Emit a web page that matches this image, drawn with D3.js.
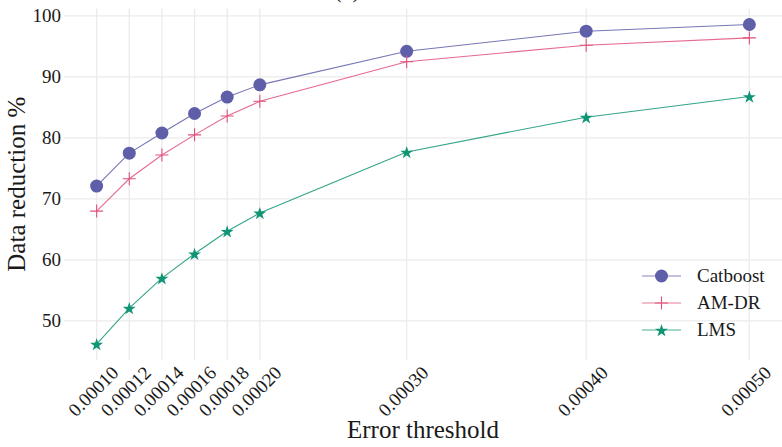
<!DOCTYPE html>
<html>
<head>
<meta charset="utf-8">
<script src="https://cdn.jsdelivr.net/npm/d3@7"></script>
<style>
  body { margin: 0; background: #fff; }
  text { font-family: "Liberation Serif", "DejaVu Serif", serif; fill: #1a1a1a; }
</style>
</head>
<body>
<svg id="chart" width="782" height="447"></svg>
<script>
// data
const thresholds = [0.00010, 0.00012, 0.00014, 0.00016, 0.00018, 0.00020, 0.00029, 0.00040, 0.00050];
const tickLabels = ['0.00010', '0.00012', '0.00014', '0.00016', '0.00018', '0.00020', '0.00030', '0.00040', '0.00050'];
const catboost = [72.1, 77.5, 80.8, 84.0, 86.7, 88.7, 94.2, 97.5, 98.6];
const amdr = [68.0, 73.3, 77.2, 80.5, 83.6, 86.0, 92.5, 95.2, 96.4];
const lms = [46.2, 52.1, 57.0, 61.0, 64.7, 67.7, 77.7, 83.4, 86.8];
const yTicks = [50, 60, 70, 80, 90, 100];
const seriesNames = ['Catboost', 'AM-DR', 'LMS'];
const seriesColors = ['#5f5ea8', '#e0507a', '#0f9474'];

const svg = d3.select('#chart');
const panelLeft = 64, panelRight = 782, panelTop = 8.5, panelBottom = 360;

function expand(ext, k) {
	const pad = (ext[1] - ext[0]) * k;
	return [ext[0] - pad, ext[1] + pad];
}

const allY = catboost.concat(amdr, lms);
const x = d3.scaleLinear().domain(expand(d3.extent(thresholds), 0.05)).range([panelLeft, panelRight]);
const y = d3.scaleLinear().domain(expand(d3.extent(allY), 0.05)).range([panelBottom, panelTop]);

// grid
svg.append('g')
	.selectAll('line')
	.data(yTicks)
	.enter()
	.append('line')
	.attr('x1', panelLeft).attr('x2', panelRight)
	.attr('y1', d => y(d)).attr('y2', d => y(d))
	.attr('stroke', '#ebebeb').attr('stroke-width', 1.3);

svg.append('g')
	.selectAll('line')
	.data(thresholds)
	.enter()
	.append('line')
	.attr('x1', d => x(d)).attr('x2', d => x(d))
	.attr('y1', panelTop).attr('y2', panelBottom)
	.attr('stroke', '#ebebeb').attr('stroke-width', 1.3);

// y tick labels
svg.append('g')
	.selectAll('text')
	.data(yTicks)
	.enter()
	.append('text')
	.attr('x', panelLeft - 3)
	.attr('y', d => y(d))
	.attr('dy', '0.33em')
	.attr('text-anchor', 'end')
	.style('font-size', '19px')
	.text(d => d);

// x tick labels, rotated
svg.append('g')
	.selectAll('text')
	.data(thresholds)
	.enter()
	.append('text')
	.attr('transform', d => `translate(${x(d) + 23},374) rotate(-45)`)
	.attr('text-anchor', 'end')
	.style('font-size', '19px')
	.text((d, i) => tickLabels[i]);

// axis titles
svg.append('text')
	.attr('x', (panelLeft + panelRight) / 2)
	.attr('y', 438)
	.attr('text-anchor', 'middle')
	.style('font-size', '25px')
	.text('Error threshold');

svg.append('text')
	.attr('transform', `translate(25,${(panelTop + panelBottom) / 2}) rotate(-90)`)
	.attr('text-anchor', 'middle')
	.style('font-size', '25px')
	.text('Data reduction %');

// cut-off panel title
svg.append('text')
	.attr('x', 347)
	.attr('y', -3)
	.attr('text-anchor', 'middle')
	.style('font-size', '25px')
	.text('(a)');

const series = [catboost, amdr, lms];
const line = d3.line()
	.x((d, i) => x(thresholds[i]))
	.y(d => y(d));

const star = d3.symbol().type(d3.symbolStar).size(52);

function drawMarker(g, k, cx, cy) {
	const c = seriesColors[k];
	if (k == 0) {
		g.append('circle').attr('cx', cx).attr('cy', cy).attr('r', 6.5).attr('fill', c);
	} else if (k == 1) {
		g.append('path')
			.attr('d', `M${cx - 6.5},${cy}H${cx + 6.5}M${cx},${cy - 6.5}V${cy + 6.5}`)
			.attr('stroke', c).attr('stroke-width', 1.1).attr('fill', 'none');
	} else {
		g.append('path')
			.attr('transform', `translate(${cx},${cy + 0.8})`)
			.attr('d', star())
			.attr('fill', c);
	}
}

series.forEach((vals, k) => {
	const g = svg.append('g');
	g.append('path')
		.datum(vals)
		.attr('d', line)
		.attr('fill', 'none')
		.attr('stroke', seriesColors[k])
		.attr('stroke-opacity', 0.85)
		.attr('stroke-width', 1.1);
	vals.forEach((v, i) => drawMarker(g, k, x(thresholds[i]), y(v)));
});

// legend
const legendY = [276, 303, 330];
seriesNames.forEach((name, k) => {
	const g = svg.append('g');
	g.append('line')
		.attr('x1', 642).attr('x2', 681)
		.attr('y1', legendY[k]).attr('y2', legendY[k])
		.attr('stroke', seriesColors[k])
		.attr('stroke-opacity', 0.75)
		.attr('stroke-width', 1.1);
	drawMarker(g, k, 661.5, legendY[k]);
	g.append('text')
		.attr('x', 697)
		.attr('y', legendY[k])
		.attr('dy', '0.33em')
		.style('font-size', '19px')
		.text(name);
});
</script>
</body>
</html>
